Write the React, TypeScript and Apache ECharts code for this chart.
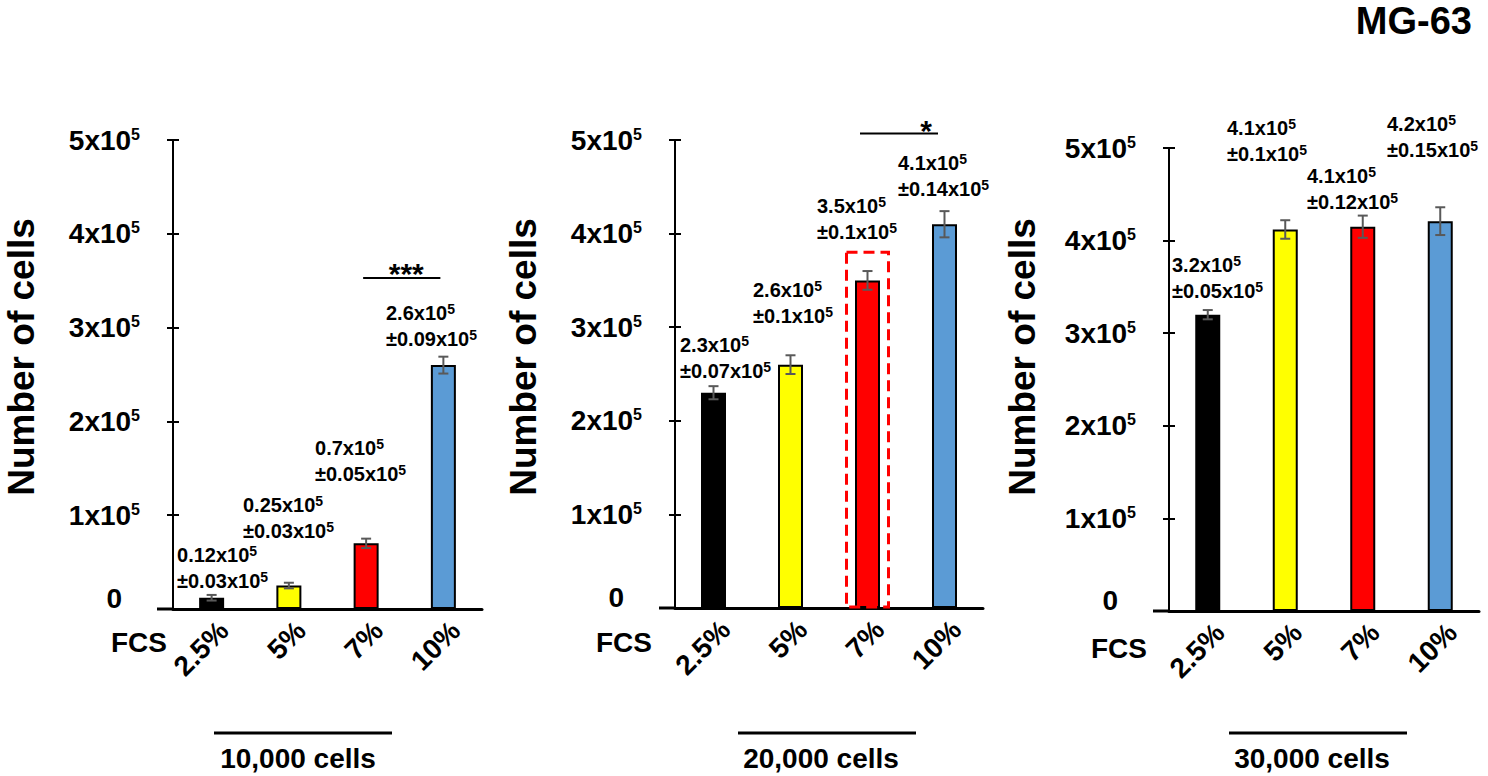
import React, { useEffect, useRef } from 'react';
import * as echarts from 'echarts';

// ---------- data (values in units of 10^5 cells) ----------
const CATEGORIES = ['2.5%', '5%', '7%', '10%'];
const PANEL_LABELS = ['10,000 cells', '20,000 cells', '30,000 cells'];

const MEANS_10K = [0.12, 0.25, 0.7, 2.6];
const SDS_10K = [0.03, 0.03, 0.05, 0.09];
const MEANS_20K = [2.3, 2.6, 3.5, 4.1];
const SDS_20K = [0.07, 0.1, 0.1, 0.14];
const MEANS_30K = [3.2, 4.12, 4.15, 4.21];
const SDS_30K = [0.05, 0.1, 0.12, 0.15];

const MEAN_TEXT_10K = ['0.12', '0.25', '0.7', '2.6'];
const SD_TEXT_10K = ['0.03', '0.03', '0.05', '0.09'];
const MEAN_TEXT_20K = ['2.3', '2.6', '3.5', '4.1'];
const SD_TEXT_20K = ['0.07', '0.1', '0.1', '0.14'];
const MEAN_TEXT_30K = ['3.2', '4.1', '4.1', '4.2'];
const SD_TEXT_30K = ['0.05', '0.1', '0.12', '0.15'];

const Y_MIN = 0;
const Y_MAX = 5;
const Y_STEP = 1;
const Y_EXPONENT = '5';

const TITLE = 'MG-63';
const Y_NAME = 'Number of cells';
const X_NAME = 'FCS';

// significance brackets: panel, category from/to, level (x10^5), mark
const SIG_PANEL = [0, 1];
const SIG_FROM = [2, 2];
const SIG_TO = [3, 3];
const SIG_LEVEL = [3.53, 5.07];
const SIG_MARK = ['***', '*'];

// highlighted bar (dashed box): panel, category, top level
const HIGHLIGHT_PANEL = 1;
const HIGHLIGHT_CATEGORY = 2;
const HIGHLIGHT_TOP = 3.8;

const PANEL_MEANS = [MEANS_10K, MEANS_20K, MEANS_30K];
const PANEL_SDS = [SDS_10K, SDS_20K, SDS_30K];
const PANEL_MEAN_TEXT = [MEAN_TEXT_10K, MEAN_TEXT_20K, MEAN_TEXT_30K];
const PANEL_SD_TEXT = [SD_TEXT_10K, SD_TEXT_20K, SD_TEXT_30K];

// ---------- layout & style ----------
const FONT = '"Liberation Sans", Arial, Helvetica, sans-serif';
const BAR_COLORS = ['#000000', '#FFFF00', '#FF0000', '#5B9BD5'];
const ERR_COLOR = '#595959';

const PANELS = [
  {
    left: 173, top: 140, width: 309, height: 469,
    nameX: 21, fcsX: 167, fcsY: 642, lineX: [214, 392], textX: 298,
    ann: [[-34.6, -43], [-45.9, -80.5], [-51.1, -95.3], [-57.4, -52]],
  },
  {
    left: 675, top: 140, width: 308, height: 468,
    nameX: 523, fcsX: 652, fcsY: 642, lineX: [738, 916], textX: 821,
    ann: [[-33.5, -47.7], [-37.5, -74.6], [-50.5, -74.4], [-46.5, -61.2]],
  },
  {
    left: 1169, top: 148, width: 310, height: 463,
    nameX: 1022, fcsX: 1147, fcsY: 648, lineX: [1229, 1407], textX: 1312,
    ann: [[-35.75, -49.7], [-58.25, -101.5], [-55.75, -50.7], [-53.25, -97.2]],
  },
];
const SIG_LAYOUT = [
  { dx1: -3, dx2: -3, markDx: 4.5, markDy: -4 },
  { dx1: -7.5, dx2: -6.5, markDx: 27, markDy: -3 },
];
const XLABEL_DX = 12;
const XLABEL_DY = 17;

const ANN_RICH = {
  a: { fontSize: 20, fontWeight: 'bold', fontFamily: FONT, fill: '#000', color: '#000', lineHeight: 26 },
  s: { fontSize: 14, fontWeight: 'bold', fontFamily: FONT, fill: '#000', color: '#000', verticalAlign: 'top', padding: [2, 0, 0, 0] },
};

function buildOption() {
  const grid = PANELS.map((p) => ({ left: p.left, top: p.top, width: p.width, height: p.height }));
  const xAxis = PANELS.map((p, i) => ({
    type: 'category',
    gridIndex: i,
    data: CATEGORIES,
    axisLine: { show: true, lineStyle: { color: '#000', width: 3 } },
    axisTick: { show: false },
    splitLine: { show: false },
    axisLabel: { show: false },
  }));
  const yAxis: any[] = [];
  PANELS.forEach((p, i) => {
    yAxis.push({
      type: 'value', gridIndex: i, position: 'left',
      min: Y_MIN, max: Y_MAX, interval: Y_STEP,
      axisLine: { show: true, lineStyle: { color: '#000', width: 2 } },
      axisTick: { show: true, length: 6, lineStyle: { color: '#000', width: 2 } },
      splitLine: { show: false },
      axisLabel: {
        margin: 33,
        formatter: (v: number) => (v === 0 ? '{z|0}' : `{a|${v}x10}{s|${Y_EXPONENT}}`),
        rich: {
          a: { fontSize: 28, fontWeight: 'bold', fontFamily: FONT, color: '#000' },
          s: { fontSize: 16, fontWeight: 'bold', fontFamily: FONT, color: '#000', verticalAlign: 'top' },
          z: { fontSize: 28, fontWeight: 'bold', fontFamily: FONT, color: '#000', padding: [0, 18, 22, 0] },
        },
      },
    });
    yAxis.push({
      type: 'value', gridIndex: i, position: 'left',
      min: Y_MIN, max: Y_MAX, interval: Y_STEP,
      axisLine: { show: false },
      axisTick: { show: true, inside: true, length: 6, lineStyle: { color: '#000', width: 2 } },
      axisLabel: { show: false },
      splitLine: { show: false },
    });
  });

  const series: any[] = [];
  PANELS.forEach((p, i) => {
    const means = PANEL_MEANS[i];
    const sds = PANEL_SDS[i];
    series.push({
      type: 'bar',
      xAxisIndex: i,
      yAxisIndex: 2 * i,
      barWidth: 25,
      itemStyle: { borderColor: '#000', borderWidth: 2 },
      data: means.map((m, j) => ({ value: m, itemStyle: { color: BAR_COLORS[j] } })),
      silent: true,
    });
    series.push({
      type: 'custom',
      xAxisIndex: i,
      yAxisIndex: 2 * i,
      z: 5,
      silent: true,
      encode: { x: 0, y: [1, 2] },
      data: means.map((m, j) => [j, m - sds[j], m + sds[j]]),
      renderItem: (params: any, api: any) => {
        const x = api.value(0);
        const lo = api.coord([x, api.value(1)]);
        const hi = api.coord([x, api.value(2)]);
        const w = 5;
        const st = { stroke: ERR_COLOR, lineWidth: 2 };
        return {
          type: 'group',
          children: [
            { type: 'line', shape: { x1: lo[0], y1: lo[1], x2: hi[0], y2: hi[1] }, style: st },
            { type: 'line', shape: { x1: lo[0] - w, y1: lo[1], x2: lo[0] + w, y2: lo[1] }, style: st },
            { type: 'line', shape: { x1: hi[0] - w, y1: hi[1], x2: hi[0] + w, y2: hi[1] }, style: st },
          ],
        };
      },
    });
  });

  return { animation: false, backgroundColor: '#ffffff', grid, xAxis, yAxis, series };
}

function buildGraphics(chart: any) {
  const g: any[] = [];
  const txt = (x: number, y: number, text: string, size: number, align: string, vAlign: string, extra: any = {}) => ({
    type: 'text', x, y, ...extra,
    style: {
      text, fill: '#000', fontSize: size, fontWeight: 'bold', fontFamily: FONT,
      align, verticalAlign: vAlign,
    },
  });
  g.push(txt(1472, 21, TITLE, 38, 'right', 'middle'));

  PANELS.forEach((p, i) => {
    const zero = chart.convertToPixel({ gridIndex: i }, [0, 0]);
    g.push({
      type: 'line',
      shape: { x1: p.left - 16, y1: zero[1], x2: p.left, y2: zero[1] },
      style: { stroke: '#000', lineWidth: 3 },
    });
    g.push(txt(p.nameX, 357, Y_NAME, 37, 'center', 'middle', { rotation: Math.PI / 2 }));
    g.push(txt(p.fcsX, p.fcsY, X_NAME, 28, 'right', 'middle'));
    g.push({
      type: 'line',
      shape: { x1: p.lineX[0], y1: 733, x2: p.lineX[1], y2: 733 },
      style: { stroke: '#000', lineWidth: 3 },
    });
    g.push(txt(p.textX, 758, PANEL_LABELS[i], 28, 'center', 'middle'));

    CATEGORIES.forEach((cat, j) => {
      const c = chart.convertToPixel({ gridIndex: i }, [j, 0]);
      g.push(txt(c[0] + XLABEL_DX, c[1] + XLABEL_DY, cat, 28, 'right', 'middle', { rotation: Math.PI / 4 }));
    });

    PANEL_MEANS[i].forEach((m, j) => {
      const c = chart.convertToPixel({ gridIndex: i }, [j, m]);
      const [dx, dy] = p.ann[j];
      g.push({
        type: 'text',
        x: c[0] + dx,
        y: c[1] + dy - 13,
        style: {
          text: `{a|${PANEL_MEAN_TEXT[i][j]}x10}{s|${Y_EXPONENT}}\n{a|±${PANEL_SD_TEXT[i][j]}x10}{s|${Y_EXPONENT}}`,
          rich: ANN_RICH,
          fill: '#000',
          fontSize: 20, fontWeight: 'bold', fontFamily: FONT,
          align: 'left', verticalAlign: 'top',
        },
      });
    });
  });

  SIG_PANEL.forEach((pi, k) => {
    const a = chart.convertToPixel({ gridIndex: pi }, [SIG_FROM[k], SIG_LEVEL[k]]);
    const b = chart.convertToPixel({ gridIndex: pi }, [SIG_TO[k], SIG_LEVEL[k]]);
    const L = SIG_LAYOUT[k];
    const x1 = a[0] + L.dx1;
    const x2 = b[0] + L.dx2;
    g.push({
      type: 'line',
      shape: { x1, y1: a[1], x2, y2: a[1] },
      style: { stroke: '#000', lineWidth: 2 },
    });
    g.push(txt((x1 + x2) / 2 + L.markDx, a[1] + L.markDy, SIG_MARK[k], 30, 'center', 'middle'));
  });

  const h0 = chart.convertToPixel({ gridIndex: HIGHLIGHT_PANEL }, [HIGHLIGHT_CATEGORY, 0]);
  const h1 = chart.convertToPixel({ gridIndex: HIGHLIGHT_PANEL }, [HIGHLIGHT_CATEGORY, HIGHLIGHT_TOP]);
  g.push({
    type: 'rect',
    shape: { x: h0[0] - 21, y: h1[1], width: 42, height: h0[1] - h1[1] - 1 },
    style: { stroke: '#FF0000', fill: 'transparent', lineWidth: 3, lineDash: [11, 6] },
    z: 10,
  });
  return g;
}

export default function App() {
  const ref = useRef<HTMLDivElement>(null);
  useEffect(() => {
    document.body.style.margin = '0';
    if (!ref.current) return;
    const chart = echarts.init(ref.current, undefined, { renderer: 'svg' });
    chart.setOption(buildOption() as any);
    chart.setOption({ graphic: buildGraphics(chart) } as any);
    return () => chart.dispose();
  }, []);
  return <div ref={ref} style={{ width: 1488, height: 776, background: '#fff' }} />;
}
